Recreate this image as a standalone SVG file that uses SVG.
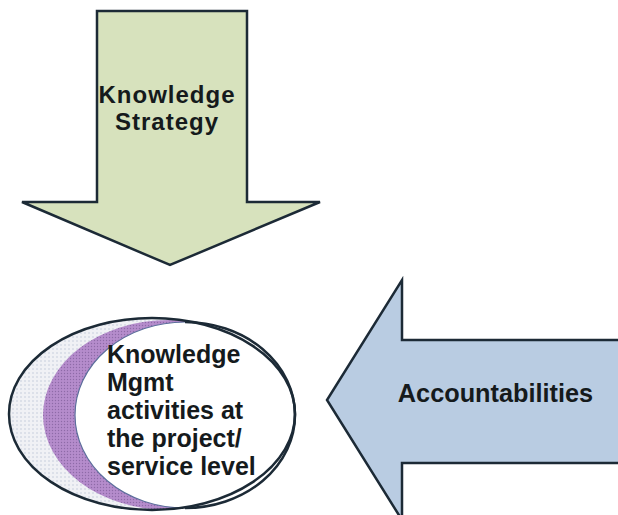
<svg xmlns="http://www.w3.org/2000/svg" width="618" height="515" viewBox="0 0 618 515">
<style>
.outline{stroke:#1c2a36;stroke-width:2.5;stroke-linejoin:miter}
.lbl{font-family:"Liberation Sans",Arial,sans-serif;font-weight:bold;fill:#151a1c}
</style>
<defs>
<pattern id="dots" width="4" height="4" patternUnits="userSpaceOnUse">
<rect width="4" height="4" fill="#f0f1f5"/>
<circle cx="1" cy="1" r="0.8" fill="#c3cbdb"/>
</pattern>
<pattern id="purp" width="3" height="3" patternUnits="userSpaceOnUse">
<rect width="3" height="3" fill="#b58ccc"/>
<circle cx="1.5" cy="1.5" r="0.7" fill="#8e6aa8"/>
</pattern>
<clipPath id="outerClip"><ellipse cx="152" cy="414" rx="143" ry="96"/></clipPath>
</defs>
<rect width="618" height="515" fill="#ffffff"/>
<g id="knowledge-strategy">
<polygon class="outline" fill="#d7e2bd" points="97,11 247,11 247,202 320,202 170,265 22,202 97,202"/>
<text class="lbl" font-size="24" letter-spacing="1" text-anchor="middle" x="167" y="103">Knowledge</text>
<text class="lbl" font-size="24" letter-spacing="1" text-anchor="middle" x="167" y="130">Strategy</text>
</g>
<g id="km-activities">
<ellipse cx="152" cy="414" rx="143" ry="96" fill="url(#dots)"/>
<g clip-path="url(#outerClip)">
<ellipse cx="169" cy="415" rx="126" ry="95" fill="url(#purp)"/>
<ellipse cx="185" cy="415" rx="110" ry="93" fill="#ffffff" stroke="#5d6f9c" stroke-width="1.2"/>
</g>
<ellipse cx="152" cy="414" rx="143" ry="96" fill="none" class="outline"/>
<path d="M185,322 A110,93 0 0 1 185,508" fill="none" class="outline"/>
<text class="lbl" font-size="25" x="107" y="363">Knowledge</text>
<text class="lbl" font-size="25" x="107" y="391">Mgmt</text>
<text class="lbl" font-size="25" x="107" y="419">activities at</text>
<text class="lbl" font-size="25" x="107" y="447">the project/</text>
<text class="lbl" font-size="25" x="107" y="475">service level</text>
</g>
<g id="accountabilities">
<polygon class="outline" fill="#b9cce2" points="620,340 402,340 402,280 327,400 402,520 402,463 620,463"/>
<text class="lbl" font-size="25.3" text-anchor="middle" x="495.5" y="402">Accountabilities</text>
</g>
<g id="connectors"></g>
</svg>
